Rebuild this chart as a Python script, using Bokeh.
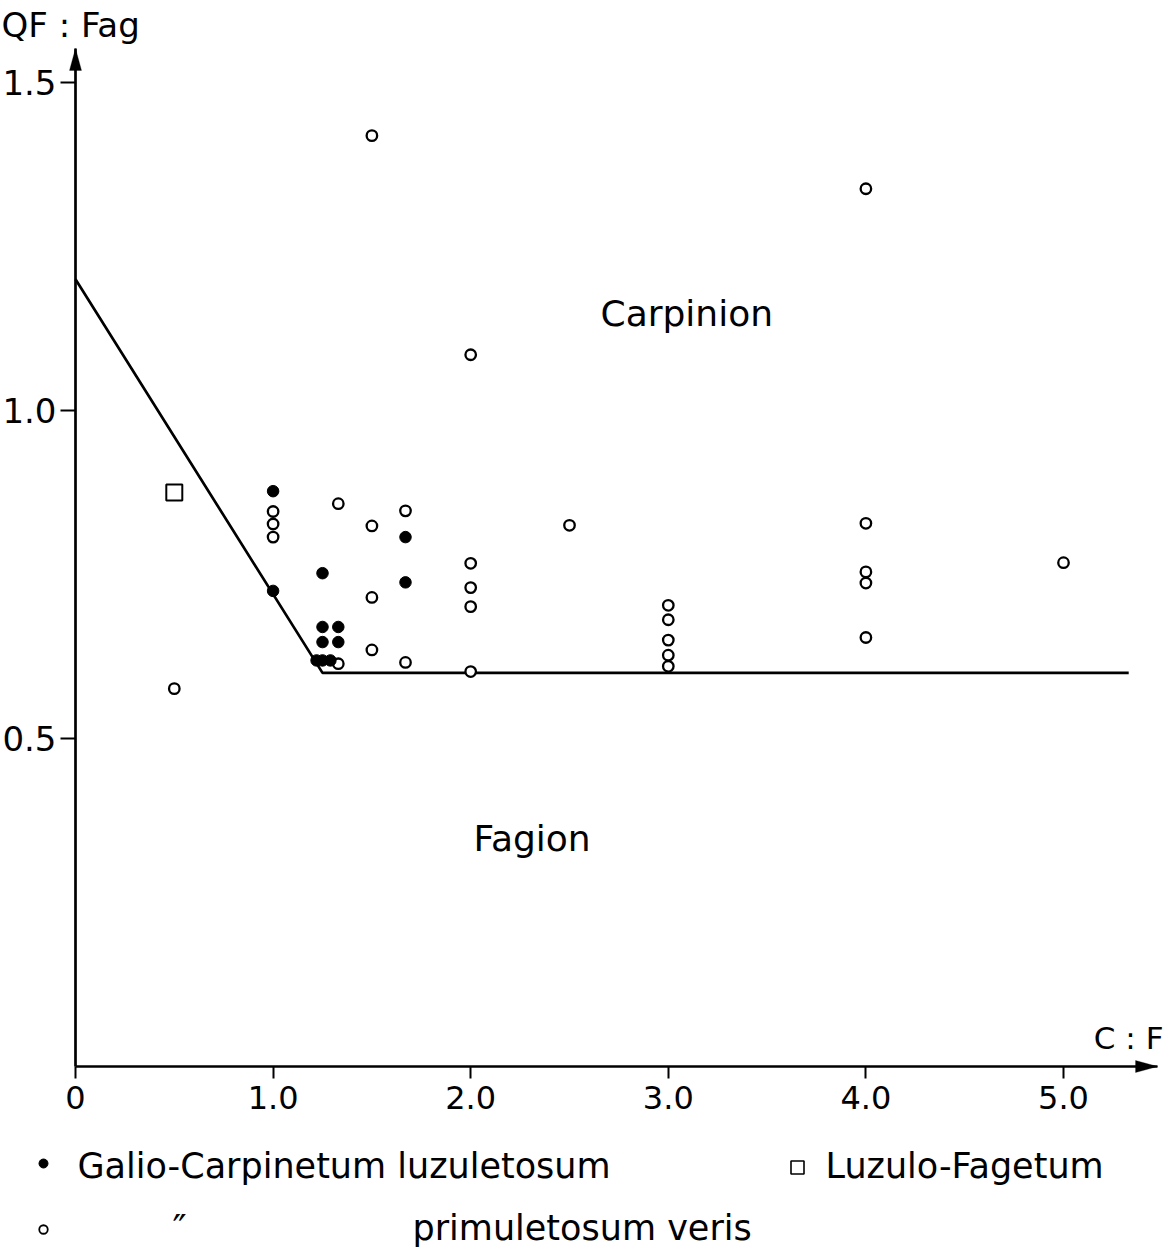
from bokeh.plotting import figure
from bokeh.models import Range1d, FixedTicker, Label, PolyAnnotation
from bokeh.embed import file_html
from bokeh.resources import INLINE

FONT = "DejaVu Sans"

# ---- data ----
# Galio-Carpinetum luzuletosum (filled dots)
luz_x = [1.0, 1.0, 1.25, 1.25, 1.33, 1.25, 1.33, 1.22, 1.25, 1.29, 1.67, 1.67]
luz_y = [0.877, 0.725, 0.752, 0.670, 0.670, 0.647, 0.647, 0.619, 0.619, 0.619, 0.807, 0.738]

# Galio-Carpinetum primuletosum veris (open circles)
prim_x = [0.5, 1.0, 1.0, 1.0, 1.33, 1.33, 1.5, 1.5, 1.5, 1.5, 1.67, 1.67,
          2.0, 2.0, 2.0, 2.0, 2.0, 2.5, 3.0, 3.0, 3.0, 3.0, 3.0,
          4.0, 4.0, 4.0, 4.0, 4.0, 5.0]
prim_y = [0.576, 0.846, 0.827, 0.807, 0.858, 0.614, 1.419, 0.824, 0.715, 0.635, 0.847, 0.616,
          1.085, 0.767, 0.730, 0.701, 0.602, 0.825, 0.703, 0.681, 0.650, 0.627, 0.610,
          1.338, 0.828, 0.754, 0.737, 0.654, 0.768]

# Luzulo-Fagetum (open square)
fag_x = [0.5]
fag_y = [0.875]

# boundary Carpinion / Fagion
bound_x = [0.0, 1.25, 5.33]
bound_y = [1.2, 0.6, 0.6]

x_ticks = [0, 1, 2, 3, 4, 5]
x_tick_labels = ["0", "1.0", "2.0", "3.0", "4.0", "5.0"]
y_ticks = [0.5, 1.0, 1.5]
y_tick_labels = ["0.5", "1.0", "1.5"]

# axis extents (arrow tips)
X_END = 5.476
Y_END = 1.552

W, H = 1168, 1250
PX_X = 197.6   # pixels per x unit
PX_Y = 656.0   # pixels per y unit
X0, Y0 = 75.0, 1066.0   # canvas position of the origin

p = figure(width=W, height=H,
           x_range=Range1d(-X0 / PX_X, (W - X0) / PX_X),
           y_range=Range1d((Y0 - H) / PX_Y, Y0 / PX_Y),
           output_backend="svg", toolbar_location=None,
           min_border_left=0, min_border_right=0,
           min_border_top=0, min_border_bottom=0)
p.grid.visible = False
p.outline_line_color = None
p.background_fill_color = "white"
p.border_fill_color = "white"

for ax in (p.xaxis, p.yaxis):
    ax.fixed_location = 0
    ax.axis_line_width = 2.7
    ax.axis_line_color = "black"
    ax.major_tick_line_width = 2
    ax.major_tick_line_color = "black"
    ax.minor_tick_line_color = None
    ax.major_tick_in = 0
    ax.major_label_text_font = FONT
    ax.major_label_text_color = "black"

p.xaxis.bounds = (0, X_END)
p.xaxis.ticker = FixedTicker(ticks=x_ticks)
p.xaxis.major_label_overrides = dict(zip(x_ticks, x_tick_labels))
p.xaxis.major_label_text_font_size = "32px"
p.xaxis.major_tick_out = 12
p.xaxis.major_label_standoff = 7

p.yaxis.bounds = (0, Y_END)
p.yaxis.ticker = FixedTicker(ticks=y_ticks)
p.yaxis.major_label_overrides = dict(zip(y_ticks, y_tick_labels))
p.yaxis.major_label_text_font_size = "34px"
p.yaxis.major_tick_out = 15
p.yaxis.major_label_standoff = 4

# arrow heads on the axes (12 px wide, 22 px long)
hw_x, hl_y = 6 / PX_X, 22 / PX_Y
p.add_layout(PolyAnnotation(xs=[-hw_x, 0.0, hw_x], ys=[Y_END - hl_y, Y_END, Y_END - hl_y],
                            fill_color="black", fill_alpha=1, line_color="black", line_width=1))
hl_x, hw_y = 22 / PX_X, 6 / PX_Y
p.add_layout(PolyAnnotation(xs=[X_END - hl_x, X_END, X_END - hl_x], ys=[hw_y, 0.0, -hw_y],
                            fill_color="black", fill_alpha=1, line_color="black", line_width=1))

# boundary line
p.line(bound_x, bound_y, line_color="black", line_width=2.7)

# points
p.scatter(prim_x, prim_y, marker="circle", size=10.5, fill_color="white",
          line_color="black", line_width=2.3)
p.scatter(luz_x, luz_y, marker="circle", size=11.5, fill_color="black",
          line_color="black", line_width=1)
p.scatter(fag_x, fag_y, marker="square", size=16, fill_color="white",
          line_color="black", line_width=2)


def cx(px):
    return (px - X0) / PX_X


def cy(py):
    return (Y0 - py) / PX_Y


SHIFT = 13  # compensation for where the text baseline is drawn


def lab(px, py, text, size, align="left", baseline="alphabetic"):
    if baseline == "alphabetic":
        py = py - SHIFT
    p.add_layout(Label(x=cx(px), y=cy(py), text=text, text_font=FONT, text_font_size=size,
                       text_color="black", text_align=align, text_baseline=baseline))


# axis titles
lab(1, 37, "QF : Fag", "34px")
lab(1163, 1050, "C : F", "31px", align="right")

# region names
lab(600, 326, "Carpinion", "36px")
lab(473, 851, "Fagion", "36px")

# legend keys
p.scatter([cx(43)], [cy(1163)], marker="circle", size=9, fill_color="black", line_color="black")
p.scatter([cx(797)], [cy(1167)], marker="square", size=13, fill_color="white",
          line_color="black", line_width=1.6)
p.scatter([cx(43)], [cy(1229)], marker="circle", size=8.5, fill_color="white",
          line_color="black", line_width=1.8)

# legend texts
lab(77, 1178, "Galio-Carpinetum luzuletosum", "35px")
lab(825, 1178, "Luzulo-Fagetum", "35px")
lab(172, 1240, "\u2033", "38px")
lab(412, 1240, "primuletosum veris", "35px")

open("out.html", "w").write(file_html(p, INLINE))
